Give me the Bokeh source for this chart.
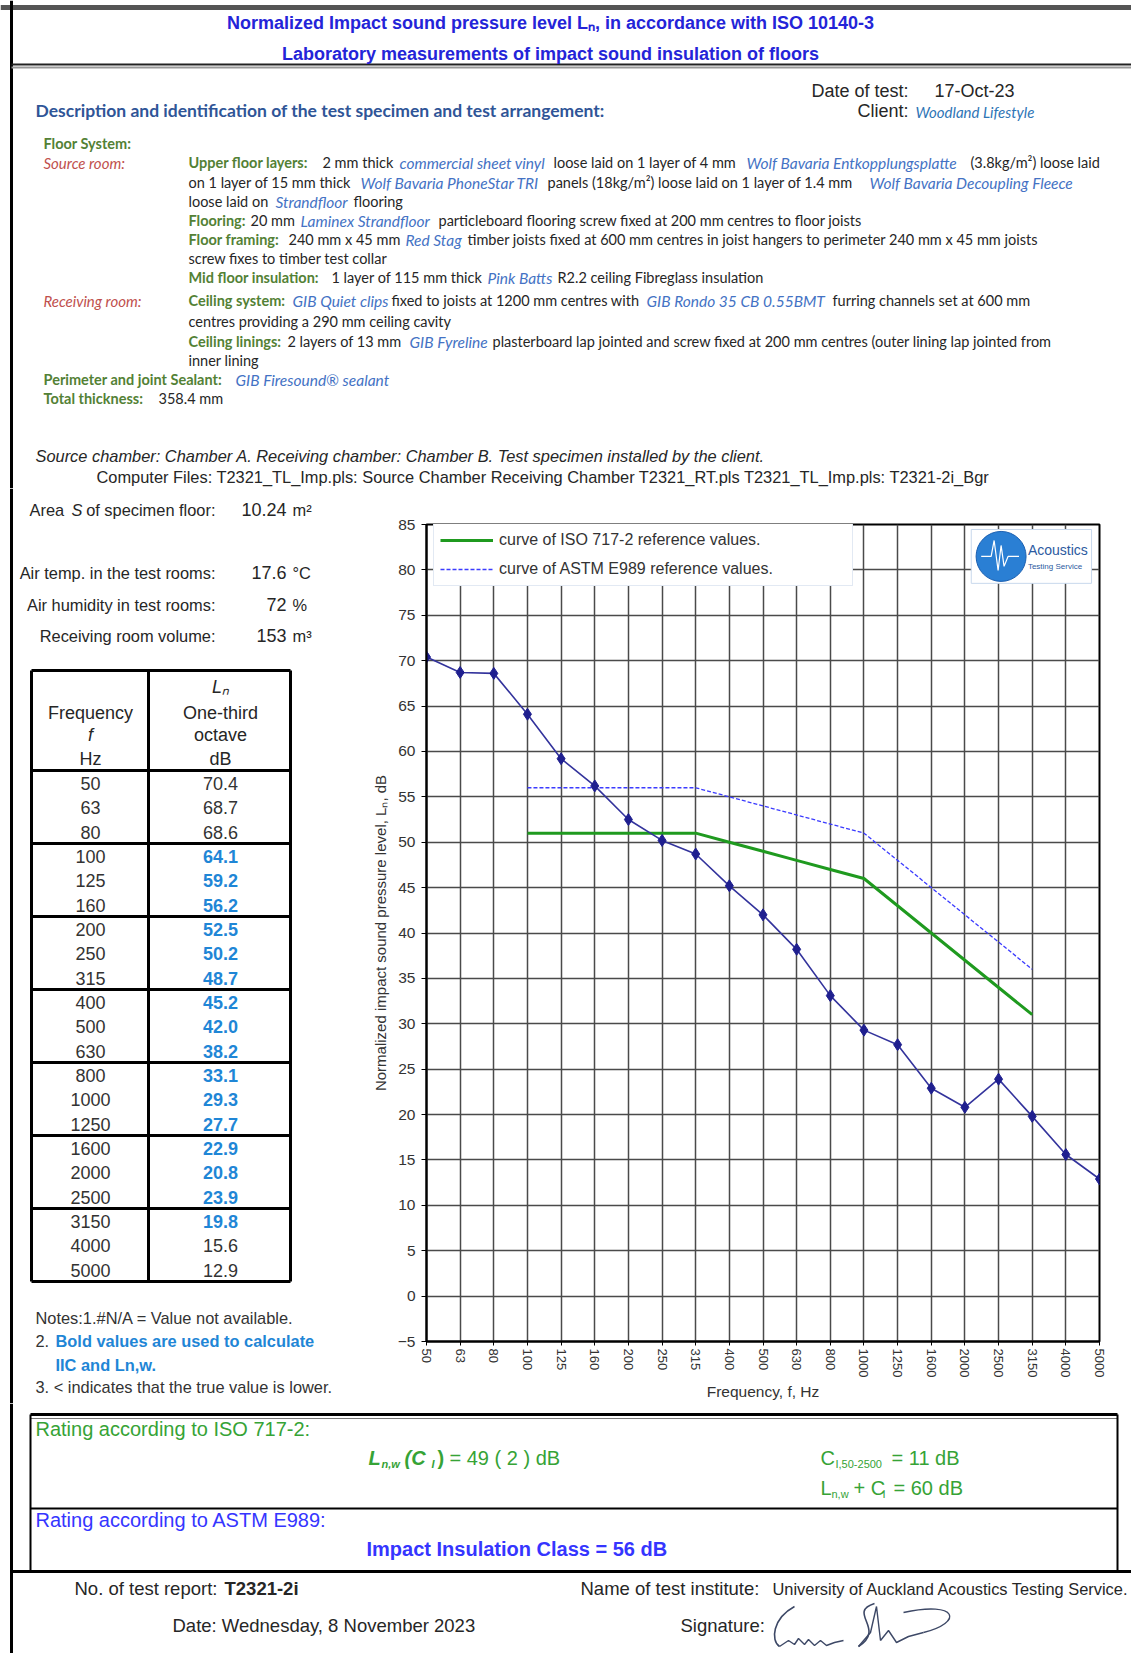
from bokeh.plotting import figure
from bokeh.layouts import column, row
from bokeh.models import Range1d, FixedTicker, Legend, LegendItem, ColumnDataSource
from bokeh.embed import file_html
from bokeh.resources import INLINE
from bokeh.core.properties import value

# ---------------- data ----------------
freqs = ["50", "63", "80", "100", "125", "160", "200", "250", "315", "400", "500",
         "630", "800", "1000", "1250", "1600", "2000", "2500", "3150", "4000", "5000"]
ln_values = [70.4, 68.7, 68.6, 64.1, 59.2, 56.2, 52.5, 50.2, 48.7, 45.2, 42.0,
             38.2, 33.1, 29.3, 27.7, 22.9, 20.8, 23.9, 19.8, 15.6, 12.9]
ref_freqs = ["100", "125", "160", "200", "250", "315", "400", "500", "630", "800",
             "1000", "1250", "1600", "2000", "2500", "3150"]
iso_ref_values = [51, 51, 51, 51, 51, 51, 50, 49, 48, 47, 46, 43, 40, 37, 34, 31]
astm_ref_values = [56, 56, 56, 56, 56, 56, 55, 54, 53, 52, 51, 48, 45, 42, 39, 36]
y_ticks = [-5, 0, 5, 10, 15, 20, 25, 30, 35, 40, 45, 50, 55, 60, 65, 70, 75, 80, 85]

ARIAL = "Liberation Sans"
CAL = "Lato"

W = 1131
TOP_H = 488
MID_H = 915
BOT_H = 250
LEFT_W = 368
CHART_W = W - LEFT_W


def page_fig(x0, y0, w, h):
    p = figure(width=w, height=h, x_range=Range1d(x0, x0 + w), y_range=Range1d(y0 + h, y0),
               output_backend="svg", toolbar_location=None, min_border=0,
               x_axis_location=None, y_axis_location=None, title=None)
    p.grid.visible = False
    p.outline_line_color = None
    p.background_fill_color = "white"
    p.border_fill_color = "white"
    p.frame_align = False
    return p


def T(p, x, y, s, size=14, color="#222222", font=ARIAL, style="normal", align="left", angle=0):
    p.text(x=[x], y=[y], text=[s], text_font=value(font), text_font_size=f"{size}px",
           text_color=color, text_font_style=style, text_align=align,
           text_baseline="middle", angle=angle)


def L(p, x0, y0, x1, y1, w=2, c="black"):
    p.segment(x0=[x0], y0=[y0], x1=[x1], y1=[y1], line_width=w, line_color=c)


TITLE_BLUE = "#2424d8"
DESC_BLUE = "#2f5597"
GREEN = "#538135"
IBLUE = "#4472c4"
RED = "#c0504d"
BLACK = "#262626"
TBLUE = "#1f86d6"
RGREEN = "#36a336"
RBLUE = "#3535ff"

# ---------------- top section ----------------
top = page_fig(0, 0, W, TOP_H)
L(top, 0, 7, W, 7, 5, "#555555")
L(top, 11, 0, 11, TOP_H, 3, "black")
L(top, 11, 64, W, 64, 2, "#222222")
L(top, 11, 67, W, 67, 2, "#999999")
T(top, 550, 22, "Normalized Impact sound pressure level Lₙ, in accordance with ISO 10140-3",
  18, TITLE_BLUE, style="bold", align="center")
T(top, 550, 53, "Laboratory measurements of impact sound insulation of floors",
  18, TITLE_BLUE, style="bold", align="center")

T(top, 35, 110, "Description and identification of the test specimen and test arrangement:",
  17.5, DESC_BLUE, font=CAL, style="bold")
T(top, 908, 90, "Date of test:", 18, BLACK, align="right")
T(top, 934, 90, "17-Oct-23", 18, BLACK)
T(top, 908, 110, "Client:", 18, BLACK, align="right")
T(top, 915, 111, "Woodland Lifestyle", 15, "#2e75b6", font=CAL, style="italic")

KIND = {"g": (GREEN, "bold", 14.5), "k": (BLACK, "normal", 14.5),
        "b": (IBLUE, "italic", 15.5), "r": (RED, "italic", 15)}
desc_lines = [
    (143, [(43, "Floor System:", "g")]),
    (162, [(43, "Source room:", "r"), (188, "Upper floor layers:", "g"), (322, "2 mm thick", "k"),
           (399, "commercial sheet vinyl", "b"), (553, "loose laid on 1 layer of 4 mm", "k"),
           (746, "Wolf Bavaria Entkopplungsplatte", "b"), (970, "(3.8kg/m²) loose laid", "k")]),
    (182, [(188, "on 1 layer of 15 mm thick", "k"), (360, "Wolf Bavaria PhoneStar TRI", "b"),
           (547, "panels (18kg/m²) loose laid on 1 layer of 1.4 mm", "k"),
           (869, "Wolf Bavaria Decoupling Fleece", "b")]),
    (201, [(188, "loose laid on", "k"), (275, "Strandfloor", "b"), (353, "flooring", "k")]),
    (220, [(188, "Flooring:", "g"), (250, "20 mm", "k"), (300, "Laminex Strandfloor", "b"),
           (438, "particleboard flooring screw fixed at 200 mm centres to floor joists", "k")]),
    (239, [(188, "Floor framing:", "g"), (288, "240 mm x 45 mm", "k"), (405, "Red Stag", "b"),
           (467, "timber joists fixed at 600 mm centres in joist hangers to perimeter 240 mm x 45 mm joists", "k")]),
    (258, [(188, "screw fixes to timber test collar", "k")]),
    (277, [(188, "Mid floor insulation:", "g"), (331, "1 layer of 115 mm thick", "k"),
           (487, "Pink Batts", "b"), (557, "R2.2 ceiling Fibreglass insulation", "k")]),
    (300, [(43, "Receiving room:", "r"), (188, "Ceiling system:", "g"), (292, "GIB Quiet clips", "b"),
           (391, "fixed to joists at 1200 mm centres with", "k"),
           (646, "GIB Rondo 35 CB 0.55BMT", "b"), (832, "furring channels set at 600 mm", "k")]),
    (321, [(188, "centres providing a 290 mm ceiling cavity", "k")]),
    (341, [(188, "Ceiling linings:", "g"), (287, "2 layers of 13 mm", "k"), (409, "GIB Fyreline", "b"),
           (492, "plasterboard lap jointed and screw fixed at 200 mm centres (outer lining lap jointed from", "k")]),
    (360, [(188, "inner lining", "k")]),
    (379, [(43, "Perimeter and joint Sealant:", "g"), (235, "GIB Firesound® sealant", "b")]),
    (398, [(43, "Total thickness:", "g"), (158, "358.4 mm", "k")]),
]
for yy, segs in desc_lines:
    for xx, s, k in segs:
        c, st, sz = KIND[k]
        T(top, xx, yy, s, sz, c, font=CAL, style=st)

T(top, 35, 455, "Source chamber: Chamber A. Receiving chamber: Chamber B. Test specimen installed by the client.",
  16.4, BLACK, style="italic")
T(top, 96, 476, "Computer Files:  T2321_TL_Imp.pls: Source Chamber Receiving Chamber T2321_RT.pls T2321_TL_Imp.pls: T2321-2i_Bgr",
  16.4, BLACK)

# ---------------- left panel ----------------
left = page_fig(0, TOP_H, LEFT_W, MID_H)
L(left, 11, TOP_H, 11, TOP_H + MID_H, 3, "black")
T(left, 29, 509, "Area", 16.4, BLACK)
T(left, 71, 509, "S", 16.4, BLACK, style="italic")
T(left, 215, 509, "of specimen floor:", 16.4, BLACK, align="right")
T(left, 215, 572, "Air temp. in the test rooms:", 16.4, BLACK, align="right")
T(left, 215, 604, "Air humidity in test rooms:", 16.4, BLACK, align="right")
T(left, 215, 635, "Receiving room volume:", 16.4, BLACK, align="right")
for yy, num, unit in [(509, "10.24", "m²"), (572, "17.6", "°C"), (604, "72", "%"), (635, "153", "m³")]:
    T(left, 286, yy, num, 18, BLACK, align="right")
    T(left, 292, yy, unit, 16.4, BLACK)

# table
TL, TM, TR, TT, TH, TB = 31, 148, 290, 670, 770, 1281
GROUP = (TB - TH) / 7.0
for xx in (TL, TM, TR):
    L(left, xx, TT, xx, TB, 3)
L(left, TL, TT, TR, TT, 3)
for g in range(8):
    yy = TH + g * GROUP
    L(left, TL, yy, TR, yy, 3)
T(left, 90, 712, "Frequency", 18, BLACK, align="center")
T(left, 90, 734, "f", 18, BLACK, style="italic", align="center")
T(left, 90, 758, "Hz", 18, BLACK, align="center")
T(left, 220, 686, "Lₙ", 18, BLACK, style="italic", align="center")
T(left, 220, 712, "One-third", 18, BLACK, align="center")
T(left, 220, 734, "octave", 18, BLACK, align="center")
T(left, 220, 758, "dB", 18, BLACK, align="center")
for i, (f, v) in enumerate(zip(freqs, ln_values)):
    g, j = divmod(i, 3)
    yy = TH + g * GROUP + 13 + j * 24.3
    T(left, 90, yy, f, 18, "#333333", align="center")
    if f in ref_freqs:
        T(left, 220, yy, f"{v:.1f}", 18, TBLUE, style="bold", align="center")
    else:
        T(left, 220, yy, f"{v:.1f}", 18, "#333333", align="center")

T(left, 35, 1317, "Notes:1.#N/A = Value not available.", 16.4, "#333333")
T(left, 35, 1340, "2.", 16.4, "#333333")
T(left, 55, 1340, "Bold values are used to calculate", 16.4, TBLUE, style="bold")
T(left, 55, 1364, "IIC and Ln,w.", 16.4, TBLUE, style="bold")
T(left, 35, 1386, "3. < indicates that the true value is lower.", 16.4, "#333333")

# ---------------- chart ----------------
FR_L, FR_R, FR_T, FR_B = 422, 1099, 524, 1343
chart = figure(width=CHART_W, height=MID_H, x_range=Range1d(0, len(freqs) - 1),
               y_range=Range1d(y_ticks[0], y_ticks[-1]), output_backend="svg",
               toolbar_location=None, title=None,
               min_border_left=FR_L - LEFT_W, min_border_right=W - FR_R,
               min_border_top=FR_T - TOP_H, min_border_bottom=TOP_H + MID_H - FR_B)
chart.frame_align = False
chart.background_fill_color = "white"
chart.border_fill_color = "white"
chart.outline_line_color = "black"
chart.outline_line_width = 2

idx = list(range(len(freqs)))
chart.xaxis.ticker = FixedTicker(ticks=idx)
chart.xaxis.major_label_overrides = {i: f for i, f in enumerate(freqs)}
chart.xaxis.major_label_orientation = "vertical"
chart.xaxis.major_label_text_font = ARIAL
chart.xaxis.major_label_text_font_size = "13px"
chart.xaxis.major_label_text_color = "#333333"
chart.xaxis.major_tick_out = 4
chart.xaxis.major_tick_in = 0
chart.xaxis.major_label_standoff = 3
chart.xaxis.minor_tick_line_color = None
chart.xaxis.axis_label = "Frequency, f, Hz"
chart.xaxis.axis_label_text_font = ARIAL
chart.xaxis.axis_label_text_font_size = "15.5px"
chart.xaxis.axis_label_text_font_style = "normal"
chart.xaxis.axis_label_text_color = "#333333"
chart.xaxis.axis_label_standoff = 3

chart.yaxis.ticker = FixedTicker(ticks=y_ticks)
chart.yaxis.major_label_text_font = ARIAL
chart.yaxis.major_label_text_font_size = "15.5px"
chart.yaxis.major_label_text_color = "#333333"
chart.yaxis.major_tick_out = 5
chart.yaxis.major_tick_in = 0
chart.yaxis.major_label_standoff = 6
chart.yaxis.minor_tick_line_color = None
chart.yaxis.axis_label = "Normalized impact sound pressure level, Lₙ, dB"
chart.yaxis.axis_label_text_font = ARIAL
chart.yaxis.axis_label_text_font_size = "15px"
chart.yaxis.axis_label_text_font_style = "normal"
chart.yaxis.axis_label_text_color = "#333333"
chart.yaxis.axis_label_standoff = 6
chart.axis.axis_line_color = "black"
chart.axis.axis_line_width = 2

chart.xgrid.ticker = FixedTicker(ticks=idx)
chart.ygrid.ticker = FixedTicker(ticks=y_ticks)
chart.grid.grid_line_color = "#4a4a4a"
chart.grid.grid_line_width = 1.5

ref_x = [freqs.index(f) for f in ref_freqs]
iso_r = chart.line(ref_x, iso_ref_values, line_color="#1f9a1f", line_width=3)
astm_r = chart.line(ref_x, astm_ref_values, line_color="#3b3bff", line_width=1.3, line_dash="4 2")
src = ColumnDataSource(dict(x=idx, y=ln_values))
chart.line("x", "y", source=src, line_color="#33339c", line_width=1.6)
chart.scatter("x", "y", source=src, marker="diamond", size=12,
              fill_color="#1f1f8f", line_color="#1f1f8f")

legend = Legend(items=[LegendItem(label="curve of ISO 717-2 reference values.", renderers=[iso_r]),
                       LegendItem(label="curve of ASTM E989 reference values.", renderers=[astm_r])],
                location=(7, 755), orientation="vertical", padding=6, spacing=9,
                glyph_width=53, glyph_height=20, label_height=20, label_width=347,
                label_standoff=6, margin=0, label_text_font=ARIAL,
                label_text_font_size="16px", label_text_color="#333333",
                border_line_color="#c5d3e8", border_line_width=1.5,
                background_fill_color="white", background_fill_alpha=1.0)
chart.add_layout(legend)


# logo (decoration, placed by page pixel position)
def px(X):
    return (X - FR_L) / (FR_R - FR_L) * (len(freqs) - 1)


def py(Y):
    return y_ticks[-1] - (Y - FR_T) / (FR_B - FR_T) * (y_ticks[-1] - y_ticks[0])


chart.quad(left=[px(970)], right=[px(1091)], top=[py(529)], bottom=[py(583)],
           fill_color="white", line_color="#c8d8ec", line_width=1)
chart.scatter([px(1000)], [py(556)], marker="circle", size=50,
              fill_color="#2a7fd4", line_color="#1b5fb0")
chart.line([px(980), px(990), px(993), px(997), px(1000), px(1003), px(1007), px(1018)],
           [py(556), py(556), py(540), py(570), py(545), py(566), py(556), py(556)],
           line_color="white", line_width=1.2)
chart.text(x=[px(1027)], y=[py(550)], text=["Acoustics"], text_font=value(ARIAL),
           text_font_size="14px", text_color="#2c5aa0", text_baseline="middle")
chart.text(x=[px(1027)], y=[py(566)], text=["Testing Service"], text_font=value(ARIAL),
           text_font_size="8px", text_color="#2c5aa0", text_baseline="middle")

# ---------------- bottom section ----------------
Y0 = TOP_H + MID_H
bot = page_fig(0, Y0, W, BOT_H)
L(bot, 11, Y0, 11, Y0 + BOT_H, 3, "black")
L(bot, 30, 1414, 1117, 1414, 3, "black")
L(bot, 30, 1418, 1117, 1418, 1, "#777777")
L(bot, 30, 1414, 30, 1571, 2, "black")
L(bot, 1117, 1414, 1117, 1571, 2, "black")
L(bot, 30, 1508, 1117, 1508, 2, "black")
L(bot, 11, 1571, W, 1571, 3, "black")

T(bot, 35, 1428, "Rating according to ISO 717-2:", 20, RGREEN)
T(bot, 368, 1457, "L", 20, RGREEN, style="bold italic")
T(bot, 381, 1463, "n,w", 11, RGREEN, style="bold italic")
T(bot, 404, 1457, "(C", 20, RGREEN, style="bold italic")
T(bot, 431, 1463, "I", 11, RGREEN, style="bold italic")
T(bot, 437, 1457, ")", 20, RGREEN, style="bold")
T(bot, 449, 1457, "= 49 ( 2 ) dB", 20, RGREEN)
T(bot, 820, 1457, "C", 20, RGREEN)
T(bot, 835, 1463, "I,50-2500", 11, RGREEN)
T(bot, 891, 1457, "= 11  dB", 20, RGREEN)
T(bot, 820, 1487, "L", 20, RGREEN)
T(bot, 831, 1493, "n,w", 11, RGREEN)
T(bot, 853, 1487, "+ C", 20, RGREEN)
T(bot, 882, 1493, "I", 11, RGREEN)
T(bot, 893, 1487, "=  60  dB", 20, RGREEN)

T(bot, 35, 1519, "Rating according to ASTM E989:", 20, RBLUE)
T(bot, 366, 1548, "Impact Insulation Class = 56  dB", 20, RBLUE, style="bold")

T(bot, 74, 1588, "No. of test report:", 18.5, BLACK)
T(bot, 224, 1588, "T2321-2i", 18.5, BLACK, style="bold")
T(bot, 580, 1588, "Name of test institute:", 18.5, BLACK)
T(bot, 772, 1588, "University of Auckland Acoustics Testing Service.", 16.4, BLACK)
T(bot, 172, 1625, "Date: Wednesday, 8 November 2023", 18.5, BLACK)
T(bot, 680, 1625, "Signature:", 18.5, BLACK)
# signature scribble
SIG = "#3d4866"
DX = 8
bot.bezier(x0=[786 + DX], y0=[1606], x1=[771 + DX], y1=[1646], cx0=[764 + DX], cy0=[1618],
           cx1=[762 + DX], cy1=[1640], line_color=SIG, line_width=1.6)
bot.line([v + DX for v in [771, 780, 786, 790, 796, 800, 806, 812, 818, 826, 835]],
         [1646, 1640, 1644, 1638, 1644, 1639, 1645, 1640, 1645, 1642, 1640],
         line_color=SIG, line_width=1.4)
bot.bezier(x0=[866 + DX], y0=[1603], x1=[850 + DX], y1=[1646], cx0=[838 + DX], cy0=[1612],
           cx1=[878 + DX], cy1=[1628], line_color=SIG, line_width=1.6)
bot.line([v + DX for v in [850, 862, 868, 872, 880, 888, 900, 915]],
         [1646, 1632, 1606, 1640, 1630, 1642, 1636, 1632], line_color=SIG, line_width=1.4)
bot.bezier(x0=[915 + DX], y0=[1632], x1=[895 + DX], y1=[1612], cx0=[955 + DX], cy0=[1622],
           cx1=[950 + DX], cy1=[1600], line_color=SIG, line_width=1.4)

layout = column(top, row(left, chart), bot)
open("out.html", "w").write(file_html(layout, INLINE))
